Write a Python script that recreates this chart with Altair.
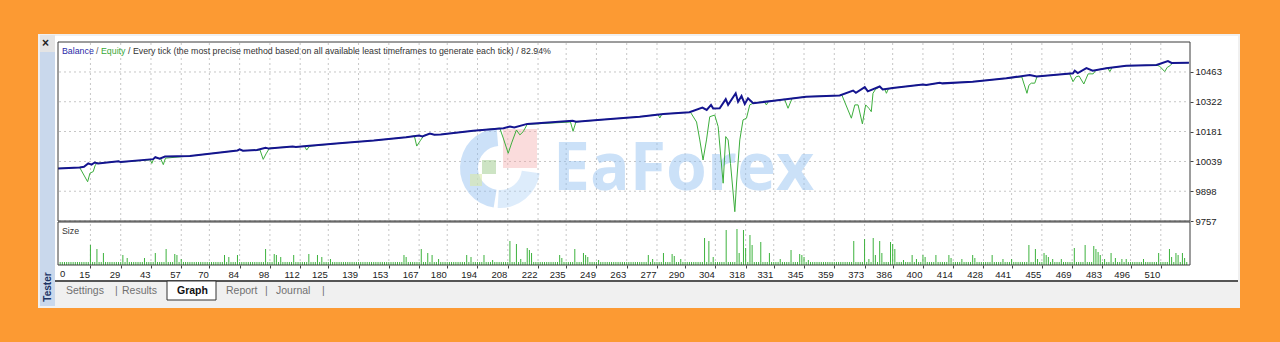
import altair as alt
import pandas as pd

# ---------------- data ----------------
# Balance curve: trade number -> balance
bal_trade = [0, 10, 12, 14, 15.5, 17, 18.5, 28, 29, 44, 45, 47, 49.5, 61, 83, 84, 85.5, 92, 96,
             97.5, 108.5, 110, 115, 130, 146, 161, 167, 168.5, 172, 174, 177,
             192, 206, 209, 211, 217, 238, 239.5, 254, 269, 280, 292, 298, 300, 302, 303, 306, 308.8,
             309.9, 313.4, 314.5, 316.1, 317.6, 319.1, 321.5, 331, 346, 361.5, 367.7, 369, 373.1,
             374.5, 380, 381.4, 386, 400, 401.5, 407.8, 409, 423, 438.6, 449.4, 452.6, 469.4, 470.2,
             471.6, 475.6, 478.5, 484.8, 494, 508, 513.3, 515, 523]
bal_value = [10006, 10011, 10014, 10030, 10024, 10034, 10030, 10040, 10036, 10050, 10059, 10052,
             10062, 10065, 10091, 10096, 10090, 10093, 10104, 10100, 10110, 10108, 10112, 10125,
             10138, 10154, 10162, 10158, 10171, 10166, 10167,
             10184, 10196, 10205, 10200, 10217, 10232, 10227, 10239, 10251, 10264, 10272, 10294,
             10283, 10307, 10290, 10291, 10334,
             10307, 10362, 10322, 10349, 10311, 10338, 10315, 10327, 10346, 10352, 10375, 10364,
             10391, 10371, 10394, 10380, 10387, 10404, 10401, 10412, 10409, 10417, 10433, 10449,
             10442, 10457, 10469, 10458, 10481, 10469, 10481, 10492, 10496, 10515, 10506, 10507]

# Equity drawdowns (where equity leaves the balance line)
dip_trades = [
    [10, 13.7, 14.8, 16.3, 17.1, 18],
    [42.7, 43.4, 44.2],
    [47.5, 48.7, 49.7],
    [93.4, 94.9, 96.2, 97.8],
    [114, 115, 116, 117],
    [164.8, 165.9, 167.7, 169.2],
    [204.3, 205.9, 208.2, 209.8, 212, 213.6, 215.1, 217],
    [237, 238.2, 239.5],
    [277.5, 278.3, 279.2],
    [292.5, 295.3, 296.8, 298.3, 299.9, 301.4, 303.7, 305.3, 307.6, 308.8, 309.9, 311, 313,
     313.8, 315.3, 316.8, 318.4, 319.9, 321.5],
    [326.5, 327.6, 328.6],
    [336, 337.6, 339.5],
    [362.5, 366.9, 368.5, 370, 372, 373.5, 375, 376.1, 376.9, 378],
    [382.3, 383.1, 384],
    [445.7, 448.1, 449, 450.1, 451.7, 452.8],
    [467.8, 469.4, 470.8, 472.2, 474.4, 476.4, 478.7, 480],
    [485.5, 486.4, 487.5],
    [508, 509.5, 511.8, 513, 514.2, 515.5],
]
dip_values = [
    [10011, 9943, 9984, 9991, 10018, 10033],
    [10047, 10030, 10050],
    [10052, 10024, 10055],
    [10094, 10049, 10075, 10102],
    [10111, 10093, 10108, 10112],
    [10160, 10112, 10140, 10162],
    [10197, 10150, 10078, 10127, 10188, 10165, 10180, 10215],
    [10226, 10182, 10226],
    [10262, 10245, 10262],
    [10272, 10226, 10141, 10046, 10141, 10251, 10259, 10204, 9936, 10157, 10141, 10030, 9801,
     9937, 10141, 10236, 10244, 10307, 10315],
    [10323, 10307, 10324],
    [10334, 10291, 10338],
    [10354, 10244, 10307, 10307, 10217, 10307, 10291, 10275, 10362, 10380],
    [10383, 10362, 10383],
    [10440, 10362, 10400, 10410, 10410, 10442],
    [10455, 10417, 10440, 10444, 10406, 10454, 10454, 10472],
    [10482, 10465, 10484],
    [10496, 10490, 10465, 10485, 10492, 10506],
]

# Lot size per trade (trades not listed use the minimum lot)
n_trades = 523
min_lot = 0.03
size_trade = [15, 18, 21, 30, 32, 40, 45, 50, 54, 55, 57, 77, 79, 83, 96, 100, 101, 103, 109, 116,
              120, 122, 126, 160, 161, 168, 171, 173, 176, 189, 191, 197, 201, 209, 212, 214, 217,
              218, 219, 232, 233, 239, 243, 244, 245, 250, 273, 275, 280, 284, 285, 288, 299, 301,
              303, 309, 314, 315, 317, 318, 320, 321, 325, 329, 334, 339, 343, 344, 345, 347, 368,
              373, 375, 377, 378, 380, 381, 385, 386, 387, 391, 395, 397, 400, 401, 406, 412, 413,
              418, 423, 424, 432, 437, 441, 449, 452, 453, 456, 457, 458, 460, 464, 470, 475, 479,
              480, 481, 482, 484, 487, 489, 492, 494, 502, 509, 514, 515, 517, 518, 520, 521]
size_lots = [0.20, 0.16, 0.12, 0.10, 0.07, 0.07, 0.12, 0.16, 0.11, 0.10, 0.06, 0.10, 0.08, 0.10,
             0.16, 0.11, 0.10, 0.08, 0.10, 0.11, 0.10, 0.08, 0.06, 0.10, 0.08, 0.16, 0.12, 0.10,
             0.06, 0.10, 0.08, 0.10, 0.05, 0.24, 0.21, 0.06, 0.17, 0.15, 0.12, 0.10, 0.07, 0.16,
             0.12, 0.10, 0.08, 0.05, 0.10, 0.06, 0.12, 0.11, 0.09, 0.06, 0.27, 0.24, 0.08, 0.35,
             0.36, 0.12, 0.35, 0.17, 0.30, 0.20, 0.23, 0.12, 0.06, 0.15, 0.11, 0.10, 0.08, 0.05,
             0.24, 0.26, 0.06, 0.27, 0.10, 0.24, 0.12, 0.23, 0.21, 0.16, 0.05, 0.10, 0.06, 0.10,
             0.08, 0.10, 0.10, 0.07, 0.06, 0.10, 0.07, 0.10, 0.06, 0.06, 0.20, 0.16, 0.06, 0.12,
             0.10, 0.08, 0.06, 0.06, 0.17, 0.20, 0.19, 0.16, 0.13, 0.10, 0.06, 0.12, 0.07, 0.06,
             0.06, 0.06, 0.12, 0.16, 0.08, 0.12, 0.10, 0.12, 0.07]

x_ticks = [15, 29, 43, 57, 70, 84, 98, 112, 125, 139, 153, 167, 180, 194, 208, 222, 235, 249, 263,
           277, 290, 304, 318, 331, 345, 359, 373, 386, 400, 414, 428, 441, 455, 469, 483, 496, 510]
y_ticks = [9757, 9898, 10039, 10181, 10322, 10463]

title_parts = ["Balance", "/", "Equity",
               "/ Every tick (the most precise method based on all available least timeframes to generate each tick) / 82.94%"]
tabs = ["Settings", "|", "Results", "Graph", "Report", "|", "Journal", "|"]

# ---------------- tables ----------------
bal_df = pd.DataFrame({"trade": bal_trade, "value": bal_value})
eq = dict(zip(bal_trade, bal_value))
for dt, dv in zip(dip_trades, dip_values):
    for k in [k for k in eq if dt[0] <= k <= dt[-1]]:
        del eq[k]
    eq.update(zip(dt, dv))
eq_df = pd.DataFrame(sorted(eq.items()), columns=["trade", "value"])

lots = {t: min_lot for t in range(1, n_trades)}
lots.update(zip(size_trade, size_lots))
size_df = pd.DataFrame(sorted(lots.items()), columns=["trade", "lots"])

xt_df = pd.DataFrame({"t": x_ticks})
yt_df = pd.DataFrame({"v": y_ticks})
zero_df = pd.DataFrame({"t": [0]})
one = pd.DataFrame({"a": [0]})

# ---------------- scales ----------------
X0, X1 = 58, 1190
xs = alt.Scale(domain=[0, 523.5], range=[X0, X1], nice=False, zero=False)
ys_main = alt.Scale(domain=[9757, 10605], range=[221, 42], nice=False, zero=False)
ys_size = alt.Scale(domain=[0, 0.42], range=[265, 223], nice=False, zero=False)

FONT = "Liberation Sans"
GRID = "#C6C6C6"
WM = "#8DBDF0"


def box(x1, x2, y1, y2, **kw):
    return alt.Chart(one).mark_rect(**kw).encode(
        x=alt.value(x1), x2=alt.value(x2), y=alt.value(y1), y2=alt.value(y2))


def line(x1, x2, y1, y2, **kw):
    return alt.Chart(one).mark_rule(**kw).encode(
        x=alt.value(x1), x2=alt.value(x2), y=alt.value(y1), y2=alt.value(y2))


def label(text, x, y, **kw):
    base = dict(font=FONT, baseline="middle", align="left")
    base.update(kw)
    return alt.Chart(one).mark_text(text=text, **base).encode(x=alt.value(x), y=alt.value(y))


def arc(cx, cy, r1, r2, t1, t2, **kw):
    return alt.Chart(one).mark_arc(**kw).encode(
        x=alt.value(cx), y=alt.value(cy), radius=alt.value(r2), radius2=alt.value(r1),
        theta=alt.value(t1), theta2=alt.value(t2))


layers = []
# frame
layers.append(box(38, 1240, 34, 308, color="#F0F0F0"))
layers.append(box(55, 1238, 36, 281, color="#FFFFFF"))
layers.append(box(40, 55, 35, 52, color="#E4E4E4"))
layers.append(box(40, 55, 52, 306, color="#C9D8EC"))

# grids + axes
layers.append(alt.Chart(xt_df).mark_rule(color=GRID, strokeDash=[2, 3]).encode(
    x=alt.X("t:Q", scale=xs, axis=None), y=alt.value(43), y2=alt.value(220)))
layers.append(alt.Chart(xt_df).mark_rule(color=GRID, strokeDash=[2, 3]).encode(
    x=alt.X("t:Q", scale=xs, axis=alt.Axis(
        values=x_ticks, orient="bottom", offset=-77, format="d", title=None, grid=False,
        domain=False, tickSize=3, tickColor="#444", labelAlign="right", labelOffset=-1,
        labelBaseline="top", labelPadding=1, labelFont=FONT, labelFontSize=9.5,
        labelColor="#222", labelOverlap=False, zindex=1)),
    y=alt.value(224), y2=alt.value(264)))
layers.append(alt.Chart(yt_df).mark_rule(color=GRID, strokeDash=[2, 3]).encode(
    y=alt.Y("v:Q", scale=ys_main, axis=alt.Axis(
        values=y_ticks, orient="right", offset=-90, format="d", title=None, grid=False,
        domain=False, tickSize=3, tickColor="#444", labelAlign="left", labelBaseline="middle",
        labelPadding=2, labelFont=FONT, labelFontSize=9.5, labelColor="#222",
        labelOverlap=False, zindex=1)),
    x=alt.value(X0 + 1), x2=alt.value(X1 - 1)))

# watermark (logo + wordmark)
layers.append(arc(500, 168, 22, 40, 3.3, 6.2, color=WM, opacity=0.45))
layers.append(arc(500, 168, 22, 40, 1.7, 3.2, color="#A9CFF5", opacity=0.4))
layers.append(box(503, 537, 129, 168, color="#F2A7A7", opacity=0.4))
layers.append(box(482, 496, 160, 174, color="#9CC98A", opacity=0.5))
layers.append(box(470, 482, 174, 186, color="#D7E8A8", opacity=0.6))
layers.append(label("EaForex", 553, 170, font="Open Sans", fontWeight="bold", fontSize=66,
                    color=WM, opacity=0.45))

# data marks
layers.append(alt.Chart(eq_df).mark_line(color="#3DAE3D", strokeWidth=1).encode(
    x=alt.X("trade:Q", scale=xs, axis=None), y=alt.Y("value:Q", scale=ys_main, axis=None)))
layers.append(alt.Chart(bal_df).mark_line(color="#14148F", strokeWidth=2).encode(
    x=alt.X("trade:Q", scale=xs, axis=None), y=alt.Y("value:Q", scale=ys_main, axis=None)))
layers.append(alt.Chart(size_df).mark_rule(color="#3DB23D", strokeWidth=1).encode(
    x=alt.X("trade:Q", scale=xs, axis=None), y=alt.Y("lots:Q", scale=ys_size, axis=None),
    y2=alt.value(265)))

# panel borders
layers.append(box(X0, X1, 42, 221, filled=False, stroke="#3A3A3A", strokeWidth=1))
layers.append(box(X0, X1, 222, 265, filled=False, stroke="#3A3A3A", strokeWidth=1))

# x label for trade 0
layers.append(alt.Chart(zero_df).mark_text(text="0", align="left", baseline="top", dx=2,
                                           font=FONT, fontSize=9.5, color="#222").encode(
    x=alt.X("t:Q", scale=xs, axis=None), y=alt.value(269)))

# texts
layers.append(label(title_parts[0], 62, 51, fontSize=8.8, color="#2B2BA8"))
layers.append(label(title_parts[1], 96, 51, fontSize=8.8, color="#555555"))
layers.append(label(title_parts[2], 101, 51, fontSize=8.8, color="#38A838"))
layers.append(label(title_parts[3], 128, 51, fontSize=8.8, color="#333333"))
layers.append(label("Size", 62, 231, fontSize=8.8, color="#333333"))
layers.append(label("×", 42, 43, fontSize=12, fontWeight="bold", color="#222222"))
layers.append(label("Tester", 48, 287, angle=270, align="center", fontSize=10,
                    fontWeight="bold", color="#1C3464"))

# tab strip
layers.append(line(55, 1238, 281, 281, color="#555555", strokeWidth=2))
layers.append(box(167, 216, 281, 300, color="#FFFFFF", stroke="#333333", strokeWidth=1))
tab_x = [66, 115, 122, 177, 226, 265, 276, 322]
for t, tx in zip(tabs, tab_x):
    if t == "Graph":
        layers.append(label(t, tx, 291, fontSize=10.5, fontWeight="bold", color="#111111"))
    else:
        layers.append(label(t, tx, 291, fontSize=10.5, color="#707070"))

chart = alt.layer(*layers).properties(
    width=1280, height=342, padding=0, background="#FC9A33",
    autosize=alt.AutoSizeParams(type="none"),
).resolve_scale(x="independent", y="independent").configure_view(stroke=None)

chart.save("out.html", embed_options={"renderer": "svg", "actions": False})
